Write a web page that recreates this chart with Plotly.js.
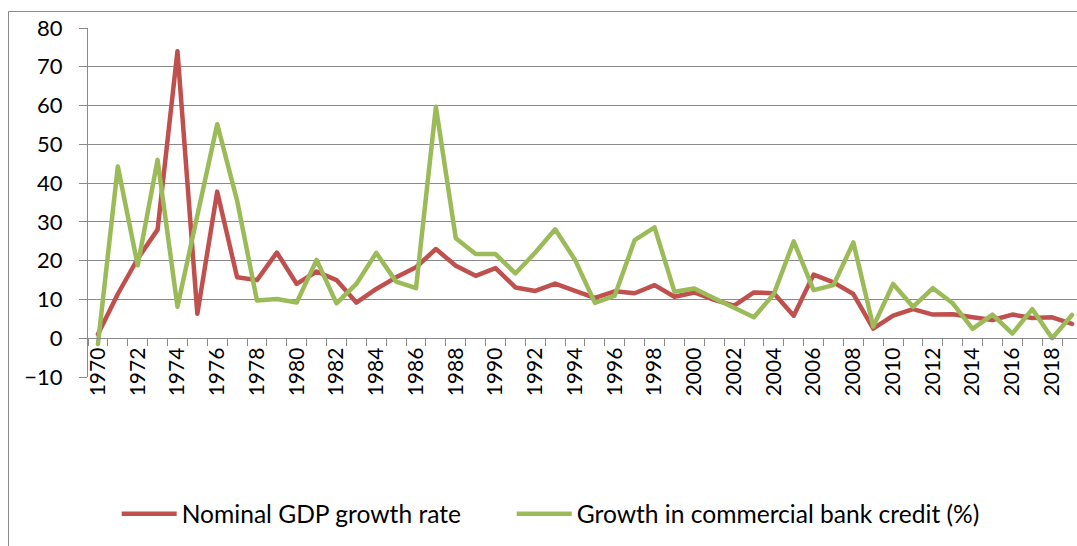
<!DOCTYPE html>
<html>
<head>
<meta charset="utf-8">
<script src="https://cdn.plot.ly/plotly-3.0.1.min.js"></script>
<style>
  html, body { margin: 0; padding: 0; background: #fff; }
  #chart { width: 1077px; height: 546px; }
  .scatterlayer path.js-line { stroke-linejoin: round; stroke-linecap: round; }
</style>
</head>
<body>
<div id="chart"></div>
<script>
const years = [];
for (let y = 1970; y <= 2019; y++) years.push(y);

const gdpGrowth = [
  1.0, 11.4, 20.5, 28.0, 74.0, 6.3, 37.8, 15.7, 15.0, 22.1,
  14.0, 17.2, 15.0, 9.2, 12.7, 15.7, 18.3, 23.0, 18.7, 16.1,
  18.1, 13.1, 12.2, 14.1, 12.2, 10.4, 12.1, 11.6, 13.7, 10.7,
  11.8, 9.9, 8.4, 11.8, 11.6, 5.8, 16.4, 14.4, 11.4, 2.5,
  5.8, 7.5, 6.1, 6.2, 5.4, 4.7, 6.1, 5.2, 5.4, 3.7
];

const bankCredit = [
  -1.5, 44.3, 18.8, 46.0, 8.1, 31.0, 55.2, 35.5, 9.7, 10.1,
  9.2, 20.2, 9.0, 14.0, 22.0, 14.6, 12.9, 59.7, 25.8, 21.7,
  21.7, 16.7, 22.1, 28.1, 20.2, 9.1, 11.0, 25.3, 28.6, 12.0,
  12.8, 10.3, 7.9, 5.4, 11.4, 25.0, 12.4, 13.7, 24.7, 3.0,
  14.0, 8.1, 12.9, 9.0, 2.4, 6.1, 1.2, 7.5, 0.0, 6.0
];

const seriesNames = ["Nominal GDP growth rate", "Growth in commercial bank credit (%)"];

const tickYears = years.filter(y => y % 2 === 0);
const tickLabels = tickYears.map(String);

const FONT = "Lato, 'Open Sans', sans-serif";
const GRID = "#8a8a8a";

const traces = [
  {
    x: years, y: gdpGrowth, name: seriesNames[0], type: "scatter", mode: "lines",
    line: { color: "#C0504D", width: 4.5 }, legend: "legend"
  },
  {
    x: years, y: bankCredit, name: seriesNames[1], type: "scatter", mode: "lines",
    line: { color: "#9BBB59", width: 4.5 }, legend: "legend2"
  }
];

const legendBase = {
  orientation: "h", xanchor: "left", y: -0.392, yanchor: "middle",
  font: { family: FONT, size: 24.6, color: "#000" },
  itemwidth: 55, bgcolor: "rgba(0,0,0,0)"
};

const layout = {
  width: 1077, height: 546,
  margin: { l: 88, r: 0, t: 28, b: 169, pad: 0 },
  paper_bgcolor: "#fff", plot_bgcolor: "#fff",
  font: { family: FONT, color: "#000" },
  showlegend: true,
  legend: Object.assign({}, legendBase, { x: 0.029 }),
  legend2: Object.assign({}, legendBase, { x: 0.4284 }),
  xaxis: {
    type: "linear", range: [1969.5, 2019.25],
    anchor: "free", position: 10 / 90,
    tickmode: "array", tickvals: tickYears, ticktext: tickLabels,
    tickangle: -90, ticks: "", showgrid: false, zeroline: false,
    showline: true, linecolor: GRID, linewidth: 1,
    tickfont: { family: FONT, size: 21, color: "#000" },
    minor: { tick0: 1969.5, dtick: 1, ticks: "outside", ticklen: 7, tickcolor: GRID, tickwidth: 1, showgrid: false },
    fixedrange: true
  },
  yaxis: {
    range: [-10, 80], dtick: 10, tick0: 0,
    showgrid: true, gridcolor: GRID, gridwidth: 1, zeroline: false,
    showline: true, linecolor: GRID, linewidth: 1,
    ticks: "outside", ticklen: 8, tickcolor: GRID, tickwidth: 1,
    tickfont: { family: FONT, size: 22, color: "#000" },
    ticklabelstandoff: 12,
    fixedrange: true
  },
  shapes: [
    {
      type: "path", xref: "paper", yref: "paper",
      path: "M -0.0804 -0.6 L -0.0804 1.0473 L 1.02 1.0473",
      line: { color: GRID, width: 1 }
    }
  ]
};

Plotly.newPlot("chart", traces, layout, { displayModeBar: false, staticPlot: true });
</script>
</body>
</html>
